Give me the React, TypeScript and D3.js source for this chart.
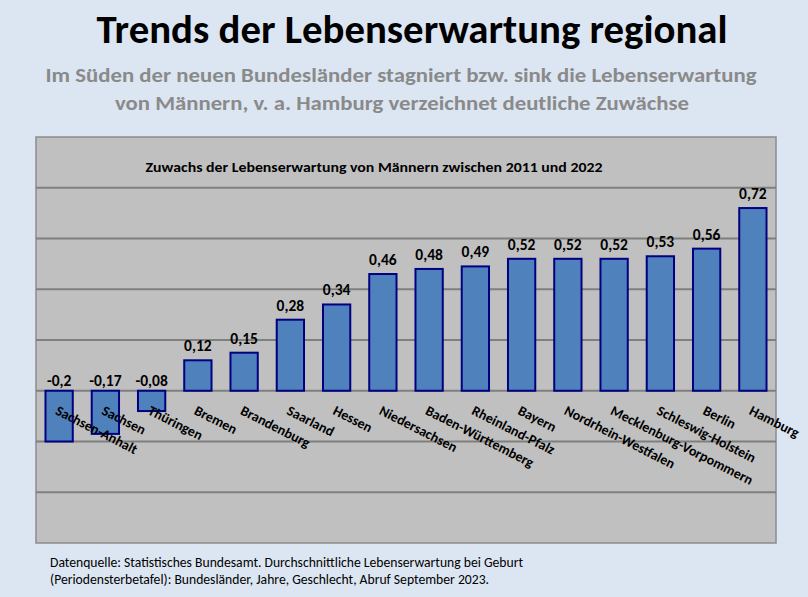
import React from "react";
import * as d3 from "d3";

const categories = [
  "Sachsen-Anhalt", "Sachsen", "Thüringen", "Bremen", "Brandenburg", "Saarland", "Hessen",
  "Niedersachsen", "Baden-Württemberg", "Rheinland-Pfalz", "Bayern", "Nordrhein-Westfalen",
  "Mecklenburg-Vorpommern", "Schleswig-Holstein", "Berlin", "Hamburg",
];
const values = [-0.2, -0.17, -0.08, 0.12, 0.15, 0.28, 0.34, 0.46, 0.48, 0.49, 0.52, 0.52, 0.52, 0.53, 0.56, 0.72];
const gridTicks = [-0.4, -0.2, 0, 0.2, 0.4, 0.6, 0.8];

const W = 808, H = 597;
const plot = { left: 36, right: 776, top: 137, bottom: 543 };
const FONT = "Calibri, Carlito, 'Open Sans', sans-serif";

const fmt = (v: number) => String(v).replace(".", ",");

export default function App() {
  const x = d3.scaleBand<string>().domain(categories).range([plot.left, plot.right]).paddingInner(0.41).paddingOuter(0.205);
  const y = d3.scaleLinear().domain([-0.6, 1.0]).range([plot.bottom, plot.top]);
  const y0 = y(0);

  return (
    <svg width={W} height={H} style={{ position: "absolute", left: 0, top: 0 }} fontFamily={FONT}>
      <rect x={0} y={0} width={W} height={H} fill="#dce6f2" />
      <text x={412} y={43} textAnchor="middle" fontSize={40} fontWeight="bold" fill="#000" textLength={631} lengthAdjust="spacingAndGlyphs">
        Trends der Lebenserwartung regional
      </text>
      <text x={401} y={82} textAnchor="middle" fontSize={21} fontWeight="bold" fill="#8a8a8a" textLength={711} lengthAdjust="spacingAndGlyphs">
        Im Süden der neuen Bundesländer stagniert bzw. sink die Lebenserwartung
      </text>
      <text x={402} y={110} textAnchor="middle" fontSize={21} fontWeight="bold" fill="#8a8a8a" textLength={574} lengthAdjust="spacingAndGlyphs">
        von Männern, v. a. Hamburg verzeichnet deutliche Zuwächse
      </text>

      <rect x={plot.left} y={plot.top} width={plot.right - plot.left} height={plot.bottom - plot.top} fill="#c0c0c0" stroke="#8c8c8c" strokeWidth={1.5} />
      {gridTicks.map((t) => (
        <line key={t} x1={plot.left} x2={plot.right} y1={y(t)} y2={y(t)} stroke="#7f7f7f" strokeWidth={2} />
      ))}
      <text x={374} y={172} textAnchor="middle" fontSize={13} fontWeight="bold" fill="#000" textLength={457} lengthAdjust="spacingAndGlyphs">
        Zuwachs der Lebenserwartung von Männern zwischen 2011 und 2022
      </text>

      {categories.map((c, i) => {
        const v = values[i];
        const bx = x(c)!;
        const top = Math.min(y(v), y0);
        const h = Math.abs(y(v) - y0);
        const cx = bx + x.bandwidth() / 2;
        const ly = v >= 0 ? y(v) - 9 : y0 - 5;
        return (
          <g key={c}>
            <rect x={bx} y={top} width={x.bandwidth()} height={h} fill="#4f81bd" stroke="#000080" strokeWidth={2} />
            <text x={cx} y={ly} textAnchor="middle" fontSize={15.5} fontWeight="bold" fill="#000">{fmt(v)}</text>
          </g>
        );
      })}

      {categories.map((c) => {
        const cx = x(c)! + x.bandwidth() / 2;
        return (
          <text key={"l" + c} transform={`translate(${cx},${y0 + 14}) rotate(27)`} x={0} y={10} fontSize={14} fontWeight="bold" fill="#000">
            {c}
          </text>
        );
      })}

      <text x={50} y={567} fontSize={13.5} fill="#000" textLength={473} lengthAdjust="spacingAndGlyphs">
        Datenquelle: Statistisches Bundesamt. Durchschnittliche Lebenserwartung bei Geburt
      </text>
      <text x={50} y={584} fontSize={13.5} fill="#000" textLength={439} lengthAdjust="spacingAndGlyphs">
        (Periodensterbetafel): Bundesländer, Jahre, Geschlecht, Abruf September 2023.
      </text>
    </svg>
  );
}
